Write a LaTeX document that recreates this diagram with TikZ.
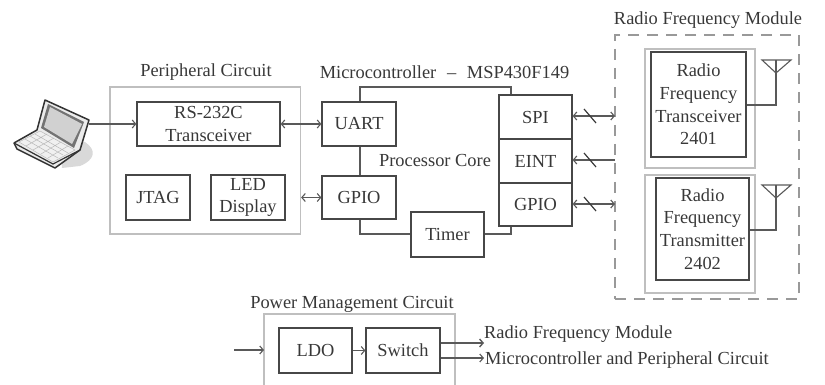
\documentclass[tikz,border=0pt]{standalone}
\usepackage{fontspec}
\setmainfont{Liberation Serif}
\usetikzlibrary{arrows.meta}
\tikzset{
 x=1pt,y=-1pt,
 box/.style={draw=black!72,line width=1.2pt,align=center,inner sep=0pt,font=\fontsize{18.4}{22.8}\selectfont,text=black!78},
 graybox/.style={draw=black!25,line width=1.2pt},
 lbl/.style={font=\fontsize{18.4}{22}\selectfont,text=black!78,inner sep=0pt},
 wire/.style={draw=black!65,line width=1.1pt},
 arr/.style={wire,-{Straight Barb[length=3.5pt,width=8pt]}},
 darr/.style={wire,{Straight Barb[length=3.5pt,width=8pt]}-{Straight Barb[length=3.5pt,width=8pt]}},
 slash/.style={draw=black!78,line width=1.2pt},
}
\newcommand{\bx}[6][]{\node[box,#1,minimum width=#4-#2,minimum height=#5-#3,text width=#4-#2] (#6) at ({(#2+#4)/2},{(#3+#5)/2}) }
\begin{document}
\begin{tikzpicture}
\useasboundingbox (0,0) rectangle (825,385);
% laptop
\fill[black!15] (60,140) -- (85,142) .. controls (97,150) and (95,160) .. (80,166) -- (62,168) -- cycle;
\filldraw[draw=black!80,fill=black!8,line width=1.5pt,line join=round] (14,143) -- (37,130) -- (45,100) -- (89,120) -- (80,150) -- (55,168) -- (17,149) -- cycle;
\draw[draw=black!80,line width=1.2pt] (14,143) -- (53,164) -- (80,150);
\fill[black!55] (48,104) -- (84,122) -- (74,148) -- (41,128) -- cycle;
\fill[black!18] (50,107) -- (82,124) -- (72,144) -- (44,127) -- cycle;
\fill[black!6,draw=black!30,line width=.4pt] (19,142) -- (40,131) -- (75,150) -- (53,162) -- cycle;
\draw[black!28,line width=.5pt] (25,139) -- (58,158) (30,136) -- (63,155) (35,134) -- (68,153) (26,146) -- (47,134) (33,150) -- (54,138) (41,154) -- (61,142) (48,158) -- (68,146);
% outer boxes
\node[graybox,minimum width=190.5pt,minimum height=147pt,inner sep=0pt] (periph) at (205.25,160.5) {};
\node[lbl] (periphl) at (206,72) {Peripheral Circuit};
\node[lbl] (mcul) at (444.5,72) {Microcontroller \,\,–\,\, MSP430F149};
\node[lbl] (core) at (435,160) {Processor Core};
\node[lbl] (rfl) at (708,20) {Radio Frequency Module};
\node[lbl] (pwrl) at (352,304) {Power Management Circuit};
% peripheral
\bx{137}{102}{280}{146}{rs} {RS-232C\\Transceiver};
\bx{126}{175}{190}{220}{jtag} {JTAG};
\bx{211}{175}{285}{220}{led} {LED\\Display};
% mcu
\bx{322}{102}{396}{146}{uart} {UART};
\bx{322}{176}{396}{219}{gpioa} {GPIO};
\bx{411}{212}{484}{257}{timer} {Timer};
\bx{499}{95}{572}{139}{spi} {SPI};
\bx{499}{139}{572}{183}{eint} {EINT};
\bx{499}{183}{572}{226}{gpiob} {GPIO};
% RF
\node[draw=black!40,line width=1.2pt,dash pattern=on 11pt off 8pt,minimum width=184pt,minimum height=264pt,inner sep=0pt] (rf) at (707,167) {};
\node[graybox,minimum width=110pt,minimum height=119pt,inner sep=0pt] (rfa) at (700,108.5) {};
\node[graybox,minimum width=110pt,minimum height=118pt,inner sep=0pt] (rfb) at (700,234) {};
\bx{651}{52}{746}{157}{tr} {Radio\\Frequency\\Transceiver\\2401};
\bx{656}{178}{749}{280}{tx} {Radio\\Frequency\\Transmitter\\2402};
% antennas
\coordinate (anta) at (776,105); \coordinate (antb) at (776,230);
\draw[wire] (tr.east |- anta) -- (anta) -- (776,60);
\draw[wire] (762,60) -- (791,60) -- (776,73) -- cycle;
\draw[wire] (tx.east |- antb) -- (antb) -- (776,185);
\draw[wire] (762,185) -- (791,185) -- (776,198) -- cycle;
% power
\draw[graybox] (264,385) -- (264,314) -- (455,314) -- (455,385);
\coordinate (pwr) at (264,350);
\coordinate (pin) at (234,350);
\bx{279}{328}{352}{373}{ldo} {LDO};
\bx{366}{328}{440}{373}{sw} {Switch};
\draw[arr] (pin) -- (pwr);
\draw[arr] (ldo) -- (sw);
\coordinate (oa) at (484,343); \coordinate (ob) at (484,358);
\draw[arr,line width=1.4pt] (sw.east |- oa) -- (oa);
\draw[arr] (sw.east |- ob) -- (ob);
\node[lbl,anchor=west] (outa) at (484,334) {Radio Frequency Module};
\node[lbl,anchor=west] (outb) at (485,360) {Microcontroller and Peripheral Circuit};
% connectors
\coordinate (lap) at (89,124);
\draw[arr] (lap) -- (rs.west |- lap);
\draw[darr] (rs) -- (uart);
\draw[darr] (periph.east |- led) -- (gpioa.west |- led);
\coordinate (ta) at (360,87); \coordinate (tb) at (511,87);
\coordinate (ba) at (360,234); \coordinate (bb) at (511,234);
\draw[wire] (uart.north -| ta) -- (ta) -- (tb) -- (spi.north -| tb);
\draw[wire] (uart.south -| ta) -- (gpioa.north -| ta);
\draw[wire] (gpioa.south -| ba) -- (ba) -- (timer.west |- ba);
\draw[wire] (timer.east |- bb) -- (bb) -- (gpiob.south -| bb);
\coordinate (ra) at (615,116); \coordinate (rb) at (615,160); \coordinate (rc) at (615,204);
\draw[darr] (spi.east |- ra) -- (ra);
\draw[wire,{Straight Barb[length=3.5pt,width=8pt]}-] (eint.east |- rb) -- (rb);
\draw[darr] (gpiob.east |- rc) -- (rc);
\foreach \y in {116,160,204} \draw[slash] (584,\y-7) -- (596,\y+7);
\end{tikzpicture}
\end{document}
